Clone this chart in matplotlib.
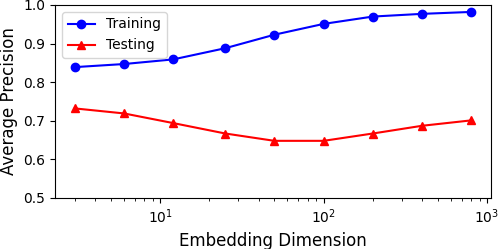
import matplotlib
matplotlib.use('Agg')
import matplotlib.pyplot as plt

# Datos
dims = [3, 6, 12, 25, 50, 100, 200, 400, 800]
training = [0.839, 0.847, 0.859, 0.888, 0.923, 0.951, 0.970, 0.977, 0.982]
testing = [0.732, 0.719, 0.694, 0.667, 0.648, 0.648, 0.667, 0.687, 0.701]

fig, ax = plt.subplots(figsize=(5, 2.49), dpi=100)
ax.plot(dims, training, 'b-o', label='Training')
ax.plot(dims, testing, 'r-^', label='Testing')
ax.set_xscale('log')
ax.set_ylim(0.5, 1.0)
ax.set_xlabel('Embedding Dimension', fontsize=12)
ax.set_ylabel('Average Precision', fontsize=12)
ax.legend(loc='upper left')
fig.subplots_adjust(left=0.11, right=0.982, top=0.98, bottom=0.205)
fig.savefig('out.png')
